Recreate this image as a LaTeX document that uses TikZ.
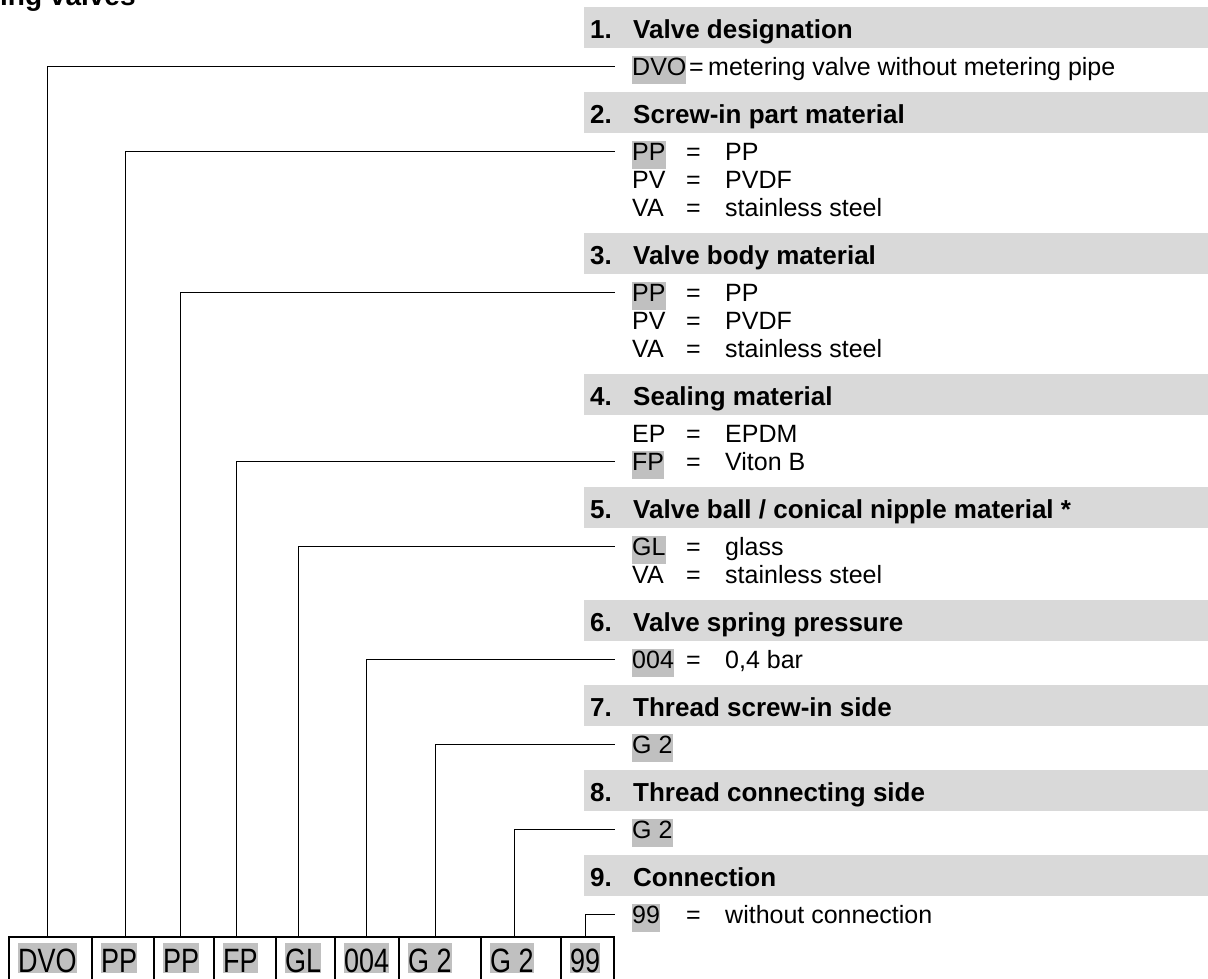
\documentclass[tikz,border=0pt]{standalone}
\usepackage{graphicx}
\usepackage{fontspec}
\setmainfont{Liberation Sans}
\definecolor{bandgray}{RGB}{217,217,217}
\definecolor{codegray}{RGB}{192,192,192}
\begin{document}
\begin{tikzpicture}[x=1pt,y=-1pt,
    txt/.style={inner sep=0pt,anchor=base west,font=\fontsize{25}{30}\selectfont},
    head/.style={inner sep=0pt,anchor=base west,font=\fontsize{26}{30}\selectfont\bfseries},
    title/.style={inner sep=0pt,anchor=base west,font=\fontsize{28}{30}\selectfont\bfseries},
    code/.style={txt,fill=codegray,text height=19pt,text depth=9pt},
    key/.style={inner sep=0pt,anchor=base west,fill=codegray,text height=29pt,text depth=1pt,font=\fontsize{27}{30}\selectfont},
    cell/.style={line width=2pt},
    link/.style={line width=1pt}]
  \useasboundingbox (0,0) rectangle (1208,978);
  \node[title] (title) at (0,5) {ing valves};
  % header bands
  \foreach \t/\n/\h in {7/1/Valve designation,92/2/Screw-in part material,233/3/Valve body material,374/4/Sealing material,487/5/{Valve ball / conical nipple material *},600/6/Valve spring pressure,685/7/Thread screw-in side,770/8/Thread connecting side,855/9/Connection} {
    \fill[bandgray] (584,\t) rectangle (1212,\t+41);
    \node[head] (n\n) at (590,\t+31) {\n.};
    \node[head] (h\n) at (633,\t+31) {\h};
  }
  % plain rows
  \foreach \y/\c/\v in {179/PV/PVDF,207/VA/stainless steel,320/PV/PVDF,348/VA/stainless steel,433/EP/EPDM,574/VA/stainless steel} {
    \node[txt] (p\y) at (632,\y+9) {\c};
    \node[txt] (q\y) at (686,\y+9) {=};
    \node[txt] (v\y) at (725,\y+9) {\v};
  }
  % code boxes and links
  \foreach \n/\c/\y/\x/\l/\r in {1/DVO/66/47/9/92,2/PP/151/125/92/154,3/PP/292/180/154/214,4/FP/461/236/214/276,5/GL/546/298/276/335,6/004/659/366/335/399,7/G 2/744/435/399/481,8/G 2/829/514/481/561,9/99/914/585/561/614} {
    \draw[cell] (\l,937) rectangle (\r,995);
    \node[key] (k\n) at (\l+9,972) {\scalebox{1}[1.25]{\c}};
    \node[code] (c\n) at (632,\y+9) {\c};
    \coordinate (s\n) at (\x,937);
    \coordinate (e\n) at (615,\y);
    \draw[link] (s\n) |- (e\n);
  }
  \foreach \n/\y/\a/\b/\v in {1/66/689/708/metering valve without metering pipe,2/151/686/725/PP,3/292/686/725/PP,4/461/686/725/Viton B,5/546/686/725/glass,6/659/686/725/{0,4 bar},9/914/686/725/without connection} {
    \node[txt] (q\n) at (\a,\y+9) {=};
    \node[txt] (v\n) at (\b,\y+9) {\v};
  }
\end{tikzpicture}
\end{document}
